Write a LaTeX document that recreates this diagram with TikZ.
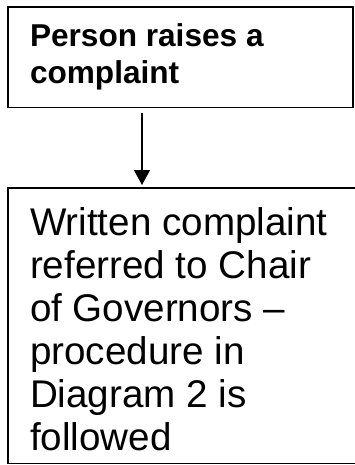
\documentclass[tikz,border=0pt]{standalone}
\usepackage{fontspec}
\setmainfont{Liberation Sans}
\usetikzlibrary{arrows.meta}
\begin{document}
\begin{tikzpicture}[x=1pt,y=1pt,
  boxframe/.style={draw=black, line width=1.3pt, inner sep=0pt, outer sep=0pt, anchor=north west},
  boxtext/.style={inner sep=0pt, outer sep=0pt, anchor=north west, align=left},
  flowarrow/.style={line width=1.4pt, -{Triangle[length=15pt,width=16pt]}, shorten <=5.5pt, shorten >=3pt}]
\useasboundingbox (0,0) rectangle (354,-465);
\fill[white] (0,0) rectangle (354,-465);
\node[boxframe, minimum width=345pt, minimum height=100.5pt] (top) at (8,-7) {};
\node[boxframe, minimum width=350pt, minimum height=275.5pt] (bottom) at (8,-188) {};
\node[boxtext, font=\bfseries\fontsize{31.6}{36.6}\selectfont] (toptext) at (30,-24) {Person raises a\\complaint};
\node[boxtext, font=\fontsize{38.6}{43}\selectfont] (bottomtext) at (30,-207.5) {Written complaint\\referred to Chair\\of Governors –\\procedure in\\Diagram 2 is\\followed};
\coordinate (ax) at (142,0);
\draw[flowarrow] (top.south -| ax) -- (bottom.north -| ax);
\end{tikzpicture}
\end{document}
